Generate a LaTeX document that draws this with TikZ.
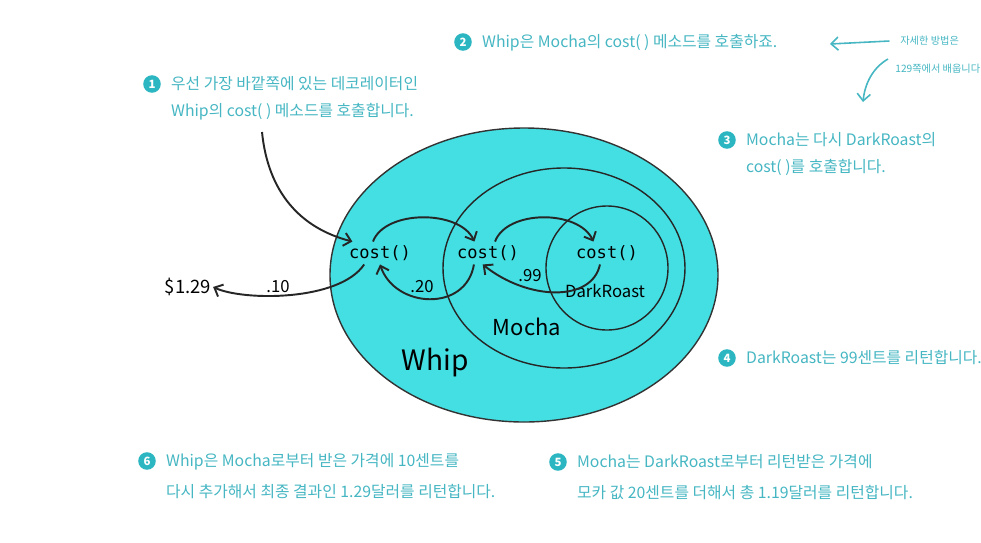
\documentclass[tikz,border=0pt]{standalone}
\usepackage{fontspec}
\setmainfont{Noto Sans CJK KR}
\newfontfamily\codefont{DejaVu Sans Mono}
\usepackage{xcolor}
\usepackage{tikz}
\usetikzlibrary{arrows.meta,positioning}
\definecolor{noteteal}{HTML}{45B6C2}
\definecolor{badgeteal}{HTML}{2BB6C1}
\definecolor{whipcyan}{HTML}{44DFE2}
\tikzset{>={Straight Barb[length=4pt,width=7.5pt]}}

\begin{document}
\begin{tikzpicture}[x=0.02cm,y=-0.02cm,
    note/.style={text=noteteal, font=\fontsize{9}{15.5}\selectfont, align=left, inner sep=0pt, anchor=north west},
    widenote/.style={note, font=\fontsize{9}{17.8}\selectfont},
    sidenote/.style={note, font=\fontsize{5.8}{9}\selectfont, anchor=west},
    badge/.style={circle, fill=badgeteal, text=white, minimum size=10pt, inner sep=0pt, font=\fontsize{6.5}{7}\selectfont\bfseries},
    method/.style={font=\codefont\fontsize{9.7}{11}\selectfont, inner sep=2pt},
    price/.style={font=\fontsize{9.5}{11}\selectfont, inner sep=1pt},
    flow/.style={->, line width=1.1pt, black!85},
    pointer/.style={->, line width=0.9pt, noteteal}]

    \useasboundingbox (0,0) rectangle (981,542);
    \clip (0,0) rectangle (981,542);

    % nested decorators
    \draw[fill=whipcyan, draw=black!80, line width=0.8pt] (524,275) ellipse [x radius=194, y radius=147];
    \draw[black!85, line width=0.8pt] (564,268) ellipse [x radius=121, y radius=100];
    \draw[black!85, line width=0.8pt] (607,268) ellipse [x radius=61, y radius=62];

    % cost() calls
    \node[method] (c1) at (380,253) {cost()};
    \node[method] (c2) at (488,253) {cost()};
    \node[method] (c3) at (607,253) {cost()};

    \node[price] (dark) at (605,291) {DarkRoast};
    \node[price, font=\fontsize{12.5}{14}\selectfont] (mocha) at (527,327) {Mocha};
    \node[price, font=\fontsize{16}{18}\selectfont] (whip) at (435,363) {Whip};

    \node[price] (p20) at (422,287) {.20};
    \node[price] (p99) at (530,276) {.99};
    \node[price] (p10) at (278,287) {.10};
    \node[price, font=\fontsize{10.5}{12}\selectfont] (total) at (188,287) {\$1.29};

    % numbered notes
    \node[badge] (b1) at (152,84) {1};
    \node[note] (t1) at ([xshift=5.5pt,yshift=4.5pt]b1.east) {우선 가장 바깥쪽에 있는 데코레이터인\\Whip의 cost( ) 메소드를 호출합니다.};
    \node[badge] (b2) at (463,42) {2};
    \node[note] (t2) at ([xshift=5.5pt,yshift=4.5pt]b2.east) {Whip은 Mocha의 cost( ) 메소드를 호출하죠.};
    \node[badge] (b3) at (727,140) {3};
    \node[note] (t3) at ([xshift=5.5pt,yshift=4.5pt]b3.east) {Mocha는 다시 DarkRoast의\\cost( )를 호출합니다.};
    \node[badge] (b4) at (727,358) {4};
    \node[note] (t4) at ([xshift=5.5pt,yshift=4.5pt]b4.east) {DarkRoast는 99센트를 리턴합니다.};
    \node[badge] (b5) at (558,462) {5};
    \node[widenote] (t5) at ([xshift=5.5pt,yshift=4.5pt]b5.east) {Mocha는 DarkRoast로부터 리턴받은 가격에\\모카 값 20센트를 더해서 총 1.19달러를 리턴합니다.};
    \node[badge] (b6) at (147,461) {6};
    \node[widenote] (t6) at ([xshift=5.5pt,yshift=4.5pt]b6.east) {Whip은 Mocha로부터 받은 가격에 10센트를\\다시 추가해서 최종 결과인 1.29달러를 리턴합니다.};

    % side remark
    \node[sidenote] (s1) at (900,41) {자세한 방법은};
    \node[sidenote] (s2) at (895,69) {129쪽에서 배웁니다};
    \coordinate (sidetip) at (830,44);
    \coordinate (sidedown) at (863,102);
    \coordinate (n1tail) at (262,132);

    % calls going in
    \draw[flow] (n1tail) .. controls (268,192) and (300,228) .. ([xshift=4pt]c1.north west);
    \draw[flow] ([xshift=-4pt]c1.north) .. controls +(12,-32) and +(-15,-32) .. ([xshift=12pt]c2.north west);
    \draw[flow] ([xshift=4pt]c2.north) .. controls +(12,-32) and +(-15,-32) .. ([xshift=12pt]c3.north west);

    % values coming back
    \draw[flow] ([xshift=-4pt]c3.south) .. controls +(-8,38) and +(45,36) .. ([xshift=-3pt]c2.south);
    \draw[flow] ([xshift=-8pt]c2.south) .. controls +(-8,48) and +(15,44) .. (c1.south);
    \draw[flow] ([xshift=-9pt]c1.south) .. controls +(-25,37) and +(30,14) .. (total.east);

    \draw[pointer] ([xshift=-6pt]s1.west) -- (sidetip);
    \draw[pointer] ([shift={(-7,-10)}]s2.west) .. controls +(-14,8) and +(2,-20) .. (sidedown);
\end{tikzpicture}
\end{document}
